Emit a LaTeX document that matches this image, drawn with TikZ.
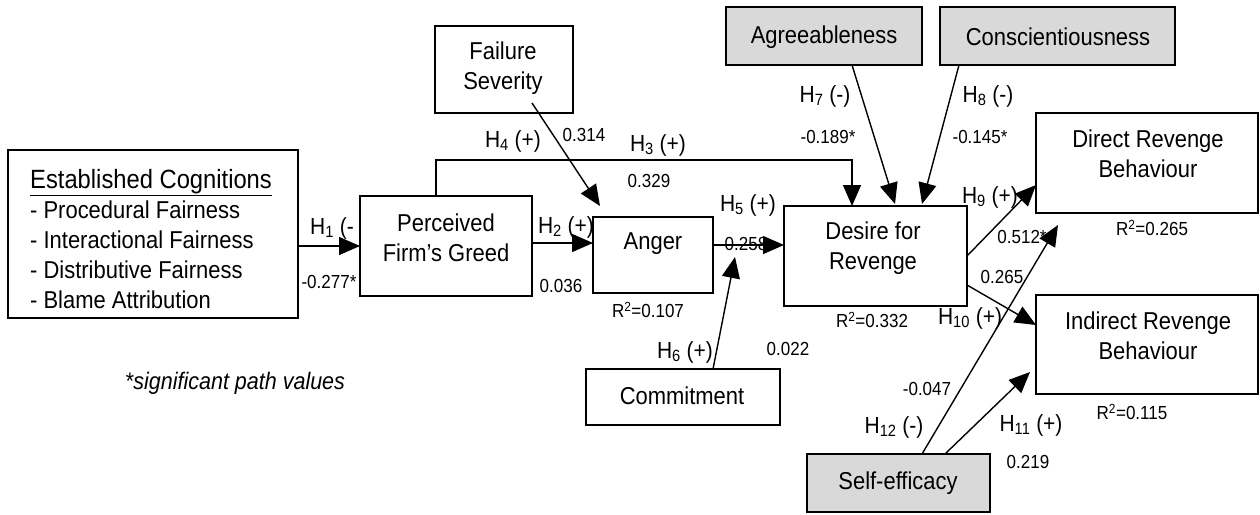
\documentclass[tikz,border=0pt]{standalone}
\usepackage{fontspec}
\setmainfont{Liberation Sans}[FakeStretch=0.9]
\usetikzlibrary{arrows.meta}
\definecolor{boxgrey}{HTML}{D9D9D9}
\begin{document}
\begin{tikzpicture}[x=1pt,y=-1pt,
  box/.style={draw,line width=1.6pt,inner sep=0pt,outer sep=0pt},
  greybox/.style={box,fill=boxgrey},
  txt/.style={inner sep=0pt,font=\fontsize{24.4}{30}\selectfont,align=center},
  hl/.style={inner sep=0pt,font=\fontsize{23.3}{26}\selectfont},
  val/.style={inner sep=0pt,font=\fontsize{18.9}{21}\selectfont},
  arr/.style={line width=1.4pt,-{Triangle[length=21pt,width=18pt]}},
  ln/.style={line width=1.4pt}
]
\useasboundingbox (0,0) rectangle (1260,514);

% boxes
\node[box,minimum width=290pt,minimum height=168pt] (ec) at (153,234) {};
\node[box,minimum width=172pt,minimum height=100pt] (pfg) at (446,246) {};
\node[box,minimum width=120pt,minimum height=76pt] (anger) at (653,255) {};
\node[box,minimum width=138pt,minimum height=87pt] (fs) at (504,69.5) {};
\node[greybox,minimum width=196pt,minimum height=58pt] (agr) at (824,36) {};
\node[greybox,minimum width=235pt,minimum height=58pt] (con) at (1057.5,36) {};
\node[box,minimum width=183pt,minimum height=100pt] (des) at (875.5,256) {};
\node[box,minimum width=222pt,minimum height=100pt] (dir) at (1147,163) {};
\node[box,minimum width=222pt,minimum height=99pt] (ind) at (1147,344.5) {};
\node[box,minimum width=194pt,minimum height=56pt] (com) at (683,397) {};
\node[greybox,minimum width=183pt,minimum height=58pt] (se) at (898.5,483) {};

% box texts
\node[txt,align=left,anchor=west] (ectxt) at (30,239) {{\fontsize{26.4}{30}\selectfont\underline{Established Cognitions}}\\- Procedural Fairness\\- Interactional Fairness\\- Distributive Fairness\\- Blame Attribution};
\node[txt] (pfgtxt) at (446,238) {Perceived\\Firm’s Greed};
\node[txt] (angertxt) at (653,244) {Anger};
\node[txt] (fstxt) at (503,68) {Failure\\Severity};
\node[txt] (agrtxt) at (824,37) {Agreeableness};
\node[txt] (contxt) at (1058,37) {Conscientiousness};
\node[txt] (destxt) at (873,248) {Desire for\\Revenge};
\node[txt] (dirtxt) at (1148,154) {Direct Revenge\\Behaviour};
\node[txt] (indtxt) at (1148,336) {Indirect Revenge\\Behaviour};
\node[txt] (comtxt) at (682,396) {Commitment};
\node[txt] (setxt) at (898,483) {Self-efficacy};

% connectors
\draw[arr] (ec.east |- pfg.west) -- (pfg.west);
\draw[arr] ([yshift=3pt]pfg.east) -- ([yshift=3pt]pfg.east -| anger.west);
\draw[arr] ([xshift=-10pt]pfg.north) -- ++(0,-36) -| ([xshift=-23.5pt]des.north);
\draw[arr] ([xshift=28pt,yshift=10pt]fs.south) -- ([xshift=7pt,yshift=11pt]anger.north west);
\draw[arr] ([yshift=10pt]anger.east) -- ([yshift=10pt]anger.east -| des.west);
\coordinate (m5) at ([xshift=22pt,yshift=-2pt]anger.east);
\draw[arr] ([xshift=30pt]com.north) -- (m5);
\draw[arr] ([xshift=28pt]agr.south) -- ([xshift=19.5pt,yshift=2pt]des.north);
\draw[arr] ([xshift=19pt]con.south west) -- ([xshift=-45pt,yshift=2pt]des.north east);
\draw[arr] (des.east) -- ([yshift=-22pt]dir.west);
\draw[arr] ([yshift=-29pt]des.east) -- ([yshift=19.5pt]ind.west);
\draw[arr] ([xshift=46.5pt]se.north) -- ([xshift=-6pt,yshift=-27.5pt]ind.west);
\draw[arr] ([xshift=23.5pt]se.north) -- ([xshift=22pt,yshift=-12pt]dir.south west);

% hypothesis labels
\node[hl] (h1) at (332,228) {H\textsubscript{1} (-};
\node[hl] (h2) at (566,227) {H\textsubscript{2} (+)};
\node[hl] (h3) at (658,145) {H\textsubscript{3} (+)};
\node[hl] (h4) at (513,141) {H\textsubscript{4} (+)};
\node[hl] (h5) at (748,205) {H\textsubscript{5} (+)};
\node[hl] (h6) at (685,352) {H\textsubscript{6} (+)};
\node[hl] (h7) at (825,96) {H\textsubscript{7} (-)};
\node[hl] (h8) at (988,96) {H\textsubscript{8} (-)};
\node[hl] (h9) at (990,197) {H\textsubscript{9} (+)};
\node[hl] (h10) at (970,318) {H\textsubscript{10} (+)};
\node[hl] (h11) at (1031,425) {H\textsubscript{11} (+)};
\node[hl] (h12) at (894,427) {H\textsubscript{12} (-)};

% path values
\node[val] (v1) at (329,282) {-0.277*};
\node[val] (v2) at (561,286) {0.036};
\node[val] (v3) at (649,181) {0.329};
\node[val] (v4) at (584,135) {0.314};
\node[val] (v5) at (746,244) {0.258};
\node[val] (v6) at (788,349) {0.022};
\node[val] (v7) at (828,137) {-0.189*};
\node[val] (v8) at (980,137) {-0.145*};
\node[val] (v9) at (1022,237) {0.512*};
\node[val] (v10) at (1002,277) {0.265};
\node[val] (v11) at (1028,462) {0.219};
\node[val] (v12) at (927,389) {-0.047};

% R squared
\node[val] (r1) at (648,310) {R\textsuperscript{2}=0.107};
\node[val] (r2) at (872,320) {R\textsuperscript{2}=0.332};
\node[val] (r3) at (1152,228) {R\textsuperscript{2}=0.265};
\node[val] (r4) at (1132,412) {R\textsuperscript{2}=0.115};

\node[val,font=\fontsize{23.9}{26}\selectfont\itshape] (note) at (235,383) {*significant path values};
\end{tikzpicture}
\end{document}
